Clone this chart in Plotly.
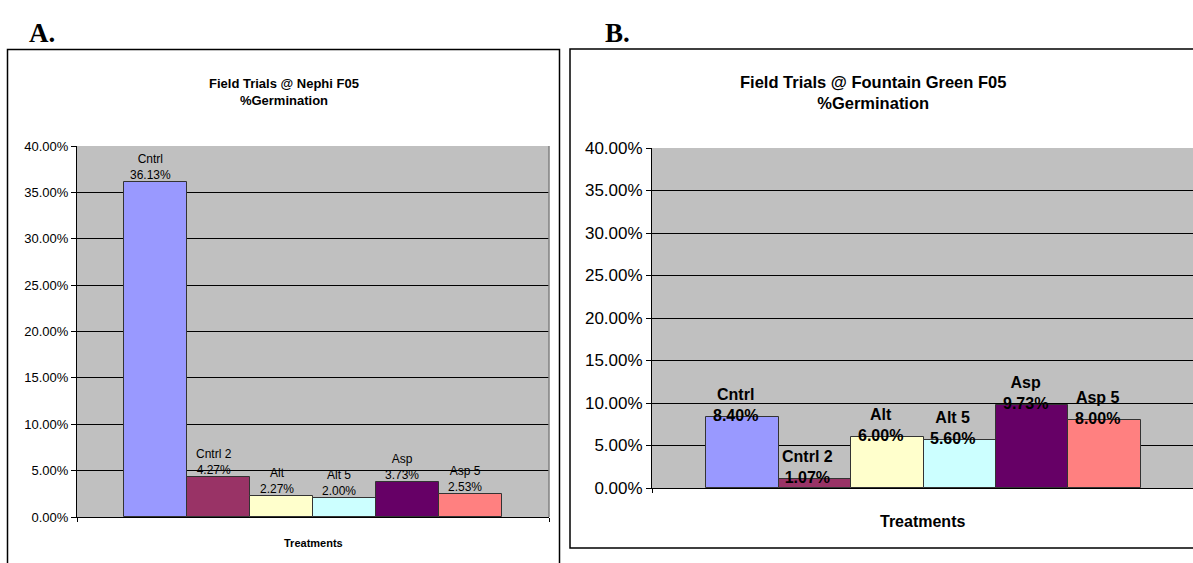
import plotly.graph_objects as go

categories = ["Cntrl", "Cntrl 2", "Alt", "Alt 5", "Asp", "Asp 5"]
nephi_values = [36.13, 4.27, 2.27, 2.00, 3.73, 2.53]
fountain_values = [8.40, 1.07, 6.00, 5.60, 9.73, 8.00]
bar_colors = ["#9999FF", "#993366", "#FFFFCC", "#CCFFFF", "#660066", "#FF8080"]
y_ticks = [0, 5, 10, 15, 20, 25, 30, 35, 40]
y_tick_labels = ["0.00%", "5.00%", "10.00%", "15.00%", "20.00%", "25.00%", "30.00%", "35.00%", "40.00%"]

W, H = 1193, 563
def px(x): return x / W
def py(y): return 1 - y / H

xs = list(range(len(categories)))
fig = go.Figure()

fig.add_trace(go.Bar(x=xs, y=nephi_values, marker=dict(color=bar_colors, line=dict(color="#333333", width=1)),
                     width=1.0, xaxis="x", yaxis="y", hoverinfo="skip", showlegend=False))
fig.add_trace(go.Bar(x=xs, y=fountain_values, marker=dict(color=bar_colors, line=dict(color="#333333", width=1)),
                     width=1.0, xaxis="x2", yaxis="y2", hoverinfo="skip", showlegend=False))

ann = []
def pann(text, x, y, size, family="Liberation Sans", xanchor="center", yanchor="middle"):
    ann.append(dict(text=text, x=px(x), y=py(y), xref="paper", yref="paper", xanchor=xanchor, yanchor=yanchor,
                    showarrow=False, font=dict(family=family, size=size, color="black")))

pann("<b>A.</b>", 27, 33, 27, family="Liberation Serif", xanchor="left")
pann("<b>B.</b>", 603, 33, 27, family="Liberation Serif", xanchor="left")
pann("<b>Field Trials @ Nephi F05<br>%Germination</b>", 284, 92, 13)
pann("<b>Field Trials @ Fountain Green F05<br>%Germination</b>", 873, 92, 16.5)
pann("<b>Treatments</b>", 313, 543, 11)
pann("<b>Treatments</b>", 922, 521, 16)

for i, (c, v) in enumerate(zip(categories, nephi_values)):
    ann.append(dict(text=f"{c}<br>{v:.2f}%", x=i, y=v, xref="x", yref="y", xanchor="center", yanchor="bottom",
                    xshift=-5, yshift=-2, showarrow=False,
                    font=dict(family="Liberation Sans", size=12, color="black")))
for i, (c, v) in enumerate(zip(categories, fountain_values)):
    ann.append(dict(text=f"<b>{c}<br>{v:.2f}%</b>", x=i, y=v, xref="x2", yref="y2", xanchor="center", yanchor="bottom",
                    xshift=-7, yshift=-9, showarrow=False,
                    font=dict(family="Liberation Sans", size=16, color="black")))

shapes = [
    dict(type="rect", xref="paper", yref="paper", x0=px(7.5), x1=px(559.5), y0=py(620), y1=py(49.5),
         line=dict(color="black", width=1.5), fillcolor="rgba(0,0,0,0)", layer="below"),
    dict(type="rect", xref="paper", yref="paper", x0=px(570), x1=px(1250), y0=py(548), y1=py(49),
         line=dict(color="black", width=1.5), fillcolor="rgba(0,0,0,0)", layer="below"),
    # plot-area right border of panel A
    dict(type="line", xref="paper", yref="paper", x0=px(549), x1=px(549), y0=py(517), y1=py(146),
         line=dict(color="#808080", width=1.5)),
]

axis_common = dict(showgrid=False, zeroline=False)
fig.update_layout(
    width=W, height=H, margin=dict(l=0, r=0, t=0, b=0, pad=0, autoexpand=False),
    paper_bgcolor="white", plot_bgcolor="#C0C0C0", bargap=0,
    font=dict(family="Liberation Sans", color="black"),
    xaxis=dict(domain=[px(77), px(549)], range=[-1.25, 6.25], showticklabels=False, ticks="outside",
               tickvals=[-1.25, 6.25], ticklen=4, tickcolor="black", automargin=False,
               showline=True, linecolor="black", linewidth=1, mirror=False, anchor="y", **axis_common),
    yaxis=dict(domain=[py(517), py(146)], range=[0, 40], tickvals=y_ticks, ticktext=y_tick_labels,
               ticks="outside", ticklen=5, tickcolor="black", showline=True, linecolor="black", automargin=False,
               tickfont=dict(size=13, family="Liberation Sans"), showgrid=True, gridcolor="black", gridwidth=1,
               zeroline=False, anchor="x"),
    xaxis2=dict(domain=[px(652), 1.0], range=[-1.25, 6.22], showticklabels=False, ticks="outside",
                tickvals=[-1.25], ticklen=4, tickcolor="black", automargin=False,
                showline=True, linecolor="black", linewidth=1, anchor="y2", **axis_common),
    yaxis2=dict(domain=[py(488), py(148)], range=[0, 40], tickvals=y_ticks, ticktext=y_tick_labels,
                ticks="outside", ticklen=5, tickcolor="black", showline=True, linecolor="black", automargin=False,
                tickfont=dict(size=17, family="Liberation Sans"), showgrid=True, gridcolor="black", gridwidth=1,
                zeroline=False, anchor="x2"),
    annotations=ann, shapes=shapes,
)

fig.write_html("out.html")
